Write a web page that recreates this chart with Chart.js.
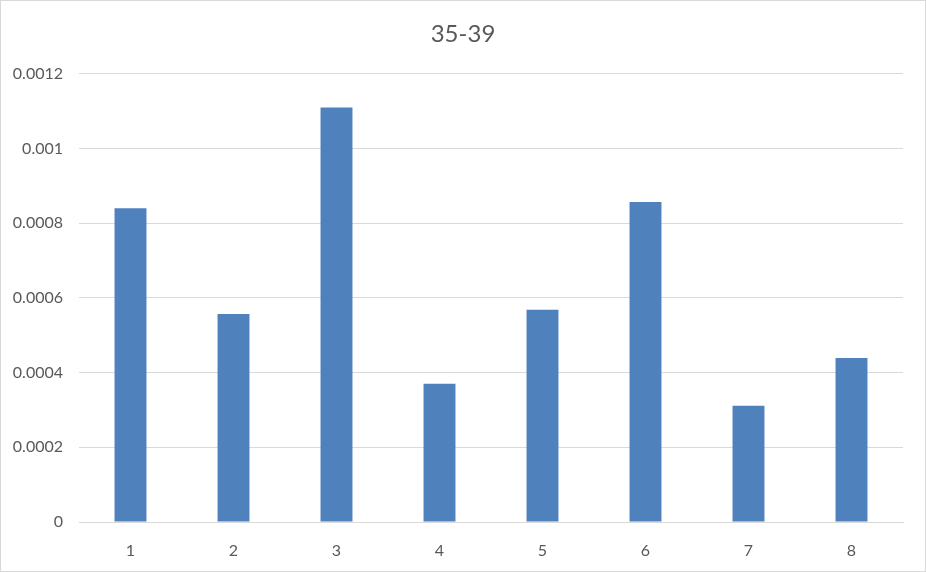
<!DOCTYPE html>
<html>
<head>
<meta charset="utf-8">
<script src="https://cdn.jsdelivr.net/npm/chart.js@4"></script>
<style>
  body { margin: 0; background: #fff; }
  #wrap { width: 924px; height: 570px; border: 1px solid #d9d9d9; }
</style>
</head>
<body>
<div id="wrap"><canvas id="myChart" width="924" height="570"></canvas></div>
<script>
// data
var categories = ["1", "2", "3", "4", "5", "6", "7", "8"];
var values = [0.00084, 0.000557, 0.00111, 0.00037, 0.000568, 0.000857, 0.000311, 0.000439];
var yTicks = [0, 0.0002, 0.0004, 0.0006, 0.0008, 0.001, 0.0012];

var textColor = "#595959";
var gridColor = "#d9d9d9";

var ctx = document.getElementById("myChart").getContext("2d");
var chart = new Chart(ctx, {
  type: "bar",
  data: {
    labels: categories,
    datasets: [
      {
        label: "35-39",
        data: values,
        backgroundColor: "#4f81bd",
        borderWidth: 0,
        categoryPercentage: 1,
        barPercentage: 0.31,
      },
    ],
  },
  options: {
    responsive: false,
    animation: false,
    layout: { padding: 0 },
    plugins: {
      legend: { display: false },
      tooltip: { enabled: false },
      title: {
        display: true,
        text: "35-39",
        color: textColor,
        font: { family: "Lato", size: 24, weight: "normal" },
        padding: { top: 19, bottom: 25 },
      },
    },
    scales: {
      x: {
        grid: { display: false, drawTicks: false },
        border: { display: true, color: gridColor, width: 1 },
        ticks: {
          color: textColor,
          font: { family: "Lato", size: 16 },
          padding: 19,
        },
        afterFit: function (axis) {
          axis.height = 49;
        },
      },
      y: {
        min: 0,
        max: 0.0012,
        grid: { color: gridColor, lineWidth: 1, drawTicks: false },
        border: { display: false },
        afterBuildTicks: function (axis) {
          axis.ticks = yTicks.map(function (v) {
            return { value: v };
          });
        },
        ticks: {
          color: textColor,
          font: { family: "Lato", size: 16 },
          padding: 16,
          callback: function (v) {
            return String(+Number(v).toFixed(4));
          },
        },
        afterFit: function (axis) {
          axis.width = 78;
        },
      },
      // empty right margin so the title stays centred on the whole canvas
      yRight: {
        position: "right",
        min: 0,
        max: 0.0012,
        grid: { display: false, drawTicks: false },
        border: { display: false },
        ticks: { display: false },
        afterFit: function (axis) {
          axis.width = 22;
        },
      },
    },
  },
});
</script>
</body>
</html>
